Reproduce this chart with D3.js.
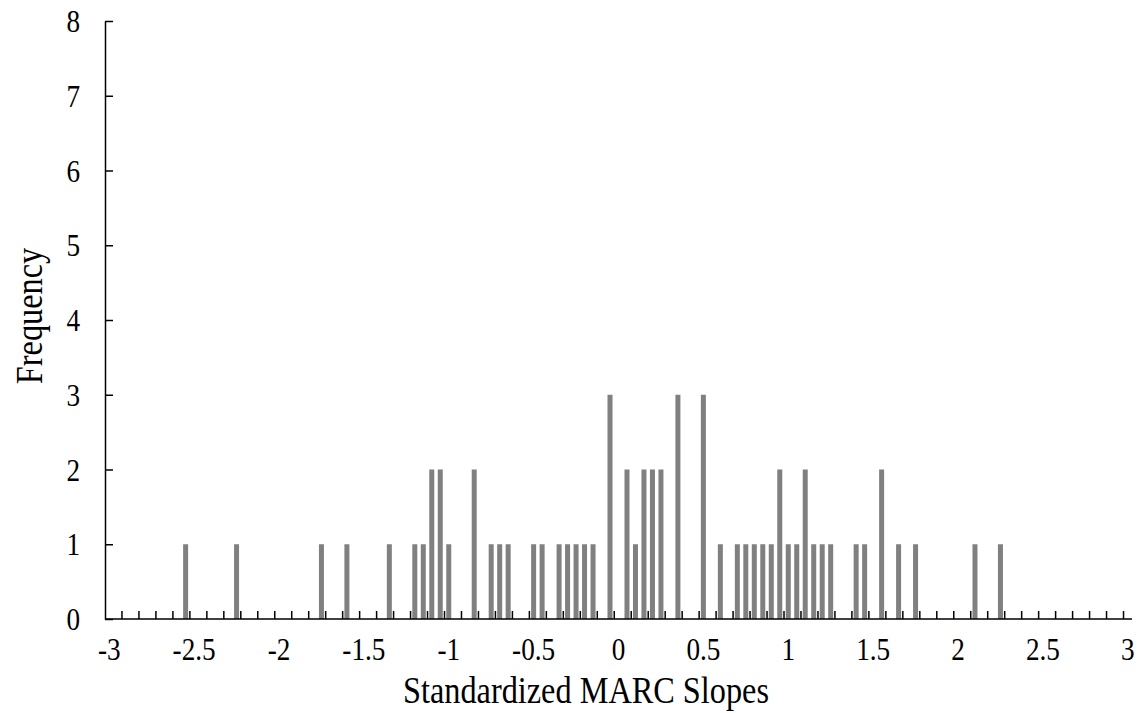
<!DOCTYPE html>
<html>
<head>
<meta charset="utf-8">
<script src="https://cdn.jsdelivr.net/npm/d3@7"></script>
<style>
  html, body { margin: 0; padding: 0; background: #fff; }
  svg text { font-family: "Liberation Serif", "Times New Roman", serif; fill: #000; }
</style>
</head>
<body>
<svg id="chart" width="1140" height="713"></svg>
<script>
// ---- data (bin centre of standardized slope, frequency) ----
const binValues = [-2.55, -2.25, -1.75, -1.6, -1.35, -1.2, -1.15, -1.1, -1.05, -1.0,
  -0.85, -0.75, -0.7, -0.65, -0.5, -0.45, -0.35, -0.3, -0.25, -0.2, -0.15,
  -0.05, 0.05, 0.1, 0.15, 0.2, 0.25, 0.35, 0.5, 0.6, 0.7, 0.75, 0.8, 0.85, 0.9,
  0.95, 1.0, 1.05, 1.1, 1.15, 1.2, 1.25, 1.4, 1.45, 1.55, 1.65, 1.75, 2.1, 2.25];
const frequencies = [1, 1, 1, 1, 1, 1, 1, 2, 2, 1,
  2, 1, 1, 1, 1, 1, 1, 1, 1, 1, 1,
  3, 2, 1, 2, 2, 2, 3, 3, 1, 1, 1, 1, 1, 1,
  2, 1, 1, 2, 1, 1, 1, 1, 1, 2, 1, 1, 1, 1];
const xTickLabels = ["-3", "-2.5", "-2", "-1.5", "-1", "-0.5", "0", "0.5", "1", "1.5", "2", "2.5", "3"];
const yTickValues = [0, 1, 2, 3, 4, 5, 6, 7, 8];
const xTitle = "Standardized MARC Slopes";
const yTitle = "Frequency";

(function () {
// ---- layout ----
const svg = d3.select("#chart");
const plotLeft = 105, plotRight = 1132, plotTop = 21, plotBottom = 619;
const squeeze = 0.85;  // reference glyphs are narrower than Times

// category axis: bins from -3 to 3 by 0.05 (keys in hundredths)
const keys = d3.range(-300, 301, 5);
const key = v => Math.round(v * 100);
const x = d3.scaleBand().domain(keys).range([plotLeft, plotRight])
  .paddingInner(0.41).paddingOuter(0.205);
const step = x.step();
const slotLeft = k => x(k) + x.bandwidth() / 2 - step / 2;
const centre = k => x(k) + x.bandwidth() / 2;

const y = d3.scaleLinear().domain([0, 8]).range([plotBottom, plotTop]);

function squeezeText(sel) {
  sel.each(function () {
    const len = this.getComputedTextLength();
    d3.select(this).attr("textLength", len * squeeze).attr("lengthAdjust", "spacingAndGlyphs");
  });
}

// bars
const data = binValues.map((v, i) => ({ k: key(v), f: frequencies[i] }));
svg.append("g").selectAll("rect").data(data).join("rect")
  .attr("x", d => x(d.k))
  .attr("width", x.bandwidth())
  .attr("y", d => y(d.f))
  .attr("height", d => y(0) - y(d.f))
  .attr("fill", "#808080");

// y axis
const yAxis = svg.append("g").attr("transform", `translate(${plotLeft},0)`)
  .call(d3.axisLeft(y).tickValues(yTickValues).tickSizeInner(-8).tickSizeOuter(0)
    .tickPadding(25).tickFormat(d3.format("d")));
yAxis.attr("font-family", null).attr("font-size", null);
yAxis.select(".domain").attr("stroke", "#000").attr("stroke-width", 1.5);
yAxis.selectAll(".tick line").attr("stroke", "#000").attr("stroke-width", 1.5);
yAxis.selectAll(".tick text")
  .attr("font-size", 32).attr("dy", "0.33em").attr("fill", "#000")
  .call(squeezeText);

// x axis line
svg.append("line")
  .attr("x1", plotLeft).attr("x2", plotRight).attr("y1", plotBottom).attr("y2", plotBottom)
  .attr("stroke", "#000").attr("stroke-width", 1.5);
// x ticks at every second category boundary (every 0.1)
const tickKeys = keys.filter((k, i) => i > 0 && i % 2 === 0);
svg.append("g").selectAll("line").data(tickKeys).join("line")
  .attr("x1", k => slotLeft(k)).attr("x2", k => slotLeft(k))
  .attr("y1", plotBottom).attr("y2", plotBottom - 8)
  .attr("stroke", "#000").attr("stroke-width", 1.5);
// x tick labels at category centres
svg.append("g").selectAll("text").data(xTickLabels).join("text")
  .attr("x", t => centre(key(+t)))
  .attr("y", 660)
  .attr("text-anchor", "middle")
  .attr("font-size", 32)
  .text(t => t)
  .call(squeezeText);

// titles
svg.append("text")
  .attr("x", 586).attr("y", 703)
  .attr("text-anchor", "middle").attr("font-size", 38)
  .text(xTitle).call(squeezeText);

svg.append("text")
  .attr("transform", "translate(42,316) rotate(-90)")
  .attr("text-anchor", "middle").attr("font-size", 38)
  .text(yTitle).call(squeezeText);
})();
</script>
</body>
</html>
